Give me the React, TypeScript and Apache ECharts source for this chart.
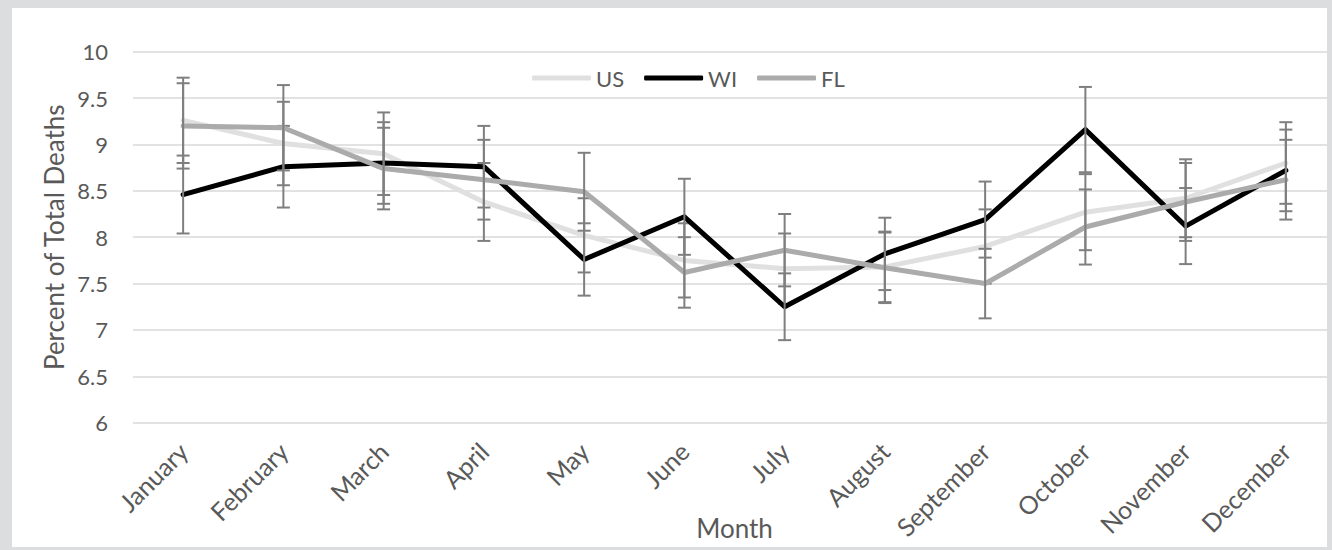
import React, { useEffect, useRef } from "react";
import * as echarts from "echarts";

const months = ["January", "February", "March", "April", "May", "June", "July", "August", "September", "October", "November", "December"];
const usValues = [9.26, 9.01, 8.9, 8.38, 8.02, 7.75, 7.66, 7.68, 7.9, 8.27, 8.42, 8.8];
const wiValues = [8.46, 8.76, 8.8, 8.76, 7.76, 8.22, 7.25, 7.82, 8.19, 9.16, 8.12, 8.72];
const flValues = [9.2, 9.18, 8.74, 8.62, 8.49, 7.62, 7.86, 7.67, 7.5, 8.11, 8.38, 8.62];
const usErr = [0.46, 0.45, 0.445, 0.42, 0.4, 0.4, 0.38, 0.38, 0.4, 0.41, 0.42, 0.44];
const wiErr = [0.42, 0.44, 0.44, 0.44, 0.39, 0.41, 0.36, 0.39, 0.41, 0.46, 0.41, 0.44];
const flErr = [0.46, 0.46, 0.44, 0.43, 0.42, 0.38, 0.39, 0.38, 0.375, 0.405, 0.42, 0.43];

const FONT = "Lato";
const TEXT = "#595959";

function errData(vals: number[], errs: number[]) {
  return vals.map((v, i) => [i, v - errs[i], v + errs[i]]);
}

function errSeries(name: string, vals: number[], errs: number[], z: number) {
  return {
    type: "custom",
    name: name + " err",
    z,
    silent: true,
    data: errData(vals, errs),
    encode: { x: 0, y: [1, 2] },
    renderItem: (params: any, api: any) => {
      const x = api.value(0);
      const pLo = api.coord([x, api.value(1)]);
      const pHi = api.coord([x, api.value(2)]);
      const hw = 6.5;
      const st = { stroke: "#7f7f7f", lineWidth: 2 };
      return {
        type: "group",
        children: [
          { type: "line", shape: { x1: pLo[0], y1: pLo[1], x2: pHi[0], y2: pHi[1] }, style: st },
          { type: "line", shape: { x1: pLo[0] - hw, y1: pLo[1], x2: pLo[0] + hw, y2: pLo[1] }, style: st },
          { type: "line", shape: { x1: pHi[0] - hw, y1: pHi[1], x2: pHi[0] + hw, y2: pHi[1] }, style: st },
        ],
      };
    },
  };
}

function lineSeries(name: string, vals: number[], color: string, z: number) {
  return {
    type: "line",
    name,
    z,
    data: vals,
    symbol: "none",
    lineStyle: { color, width: 5, join: "round", cap: "round" },
    itemStyle: { color },
  };
}

export default function App() {
  const ref = useRef<HTMLDivElement>(null);
  useEffect(() => {
    if (!ref.current) return;
    const chart = echarts.init(ref.current, null, { renderer: "svg" });
    const frame = "#dcdddf";
    chart.setOption({
      animation: false,
      backgroundColor: "#ffffff",
      textStyle: { fontFamily: FONT },
      grid: { left: 133, right: -4, top: 51.7, bottom: 127.3, containLabel: false, outerBoundsMode: "none" },
      legend: {
        data: ["US", "WI", "FL"],
        left: 532,
        top: 67,
        padding: 0,
        icon: "roundRect",
        itemWidth: 59,
        itemHeight: 5,
        itemGap: 20,
        textStyle: { fontFamily: FONT, fontSize: 22, color: TEXT },
      },
      xAxis: {
        type: "category",
        data: months,
        boundaryGap: true,
        axisLine: { show: false },
        axisTick: { show: false },
        axisLabel: { rotate: 45, margin: 24, fontFamily: FONT, fontSize: 25, color: TEXT, interval: 0 },
        name: "Month",
        nameLocation: "middle",
        nameGap: 92,
        nameMoveOverlap: false,
        nameTextStyle: { fontFamily: FONT, fontSize: 26, color: TEXT },
      },
      yAxis: {
        type: "value",
        min: 6,
        max: 10,
        interval: 0.5,
        axisLine: { show: false },
        axisTick: { show: false },
        axisLabel: { margin: 25, fontFamily: FONT, fontSize: 22, color: TEXT },
        splitLine: { lineStyle: { color: "#d9d9d9", width: 1.5 } },
        name: "Percent of Total Deaths",
        nameLocation: "middle",
        nameGap: 66,
        nameMoveOverlap: false,
        nameTextStyle: { fontFamily: FONT, fontSize: 26, color: TEXT },
      },
      graphic: [
        { type: "rect", z: 100, shape: { x: 0, y: 0, width: 1332, height: 8 }, style: { fill: frame } },
        { type: "rect", z: 100, shape: { x: 0, y: 547, width: 1332, height: 3 }, style: { fill: frame } },
        { type: "rect", z: 100, shape: { x: 0, y: 0, width: 12, height: 550 }, style: { fill: frame } },
        { type: "rect", z: 100, shape: { x: 1327, y: 0, width: 5, height: 550 }, style: { fill: frame } },
      ],
      series: [
        lineSeries("US", usValues, "#e0e0e0", 2),
        errSeries("US", usValues, usErr, 3),
        lineSeries("WI", wiValues, "#000000", 4),
        errSeries("WI", wiValues, wiErr, 5),
        lineSeries("FL", flValues, "#ababab", 6),
        errSeries("FL", flValues, flErr, 7),
      ],
    });
    return () => chart.dispose();
  }, []);
  return <div ref={ref} style={{ position: "absolute", left: 0, top: 0, width: 1332, height: 550 }} />;
}
